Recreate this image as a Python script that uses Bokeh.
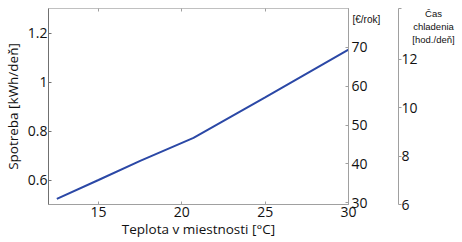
from bokeh.plotting import figure
from bokeh.models import LinearAxis, Range1d, FixedTicker, Label
from bokeh.embed import file_html
from bokeh.resources import INLINE

# Data
temperature = [12.5, 15.0, 17.5, 20.7, 25.0, 30.0]
consumption = [0.523, 0.600, 0.678, 0.772, 0.937, 1.132]

x_ticks = [15, 20, 25, 30]
left_ticks = [0.6, 0.8, 1.0, 1.2]
eur_ticks = [30, 40, 50, 60, 70]
cas_ticks = [6, 8, 10, 12, 14.1]

x_label = "Teplota v miestnosti [°C]"
y_label = "Spotreba [kWh/deň]"
eur_label = "[€/rok]"
cas_label = "Čas\nchladenia\n[hod./deň]"

FONT = "Open Sans"
SMALL = "Liberation Sans"
GRAY = "#a0a0a0"
DARK = "#707070"
TXT = "#111111"

p = figure(width=462, height=242, output_backend="svg", toolbar_location=None,
           x_range=Range1d(12, 30), y_range=Range1d(0.5, 1.3),
           min_border_left=46, min_border_right=114, min_border_top=8,
           min_border_bottom=38)
p.grid.visible = False
p.outline_line_color = "#c0c0c0"
p.background_fill_color = "white"
p.border_fill_color = "white"

p.line(temperature, consumption, line_color="#2b48a6", line_width=2)

# bottom axis
xa = p.xaxis[0]
xa.ticker = FixedTicker(ticks=x_ticks)
xa.axis_label = x_label
xa.axis_label_text_font = FONT
xa.axis_label_text_font_size = "13.5px"
xa.axis_label_text_font_style = "normal"
xa.axis_label_text_color = TXT
xa.axis_label_standoff = 0
xa.major_label_text_font = FONT
xa.major_label_text_font_size = "14px"
xa.major_label_text_color = TXT
xa.major_label_standoff = 2
xa.major_tick_in = 3
xa.major_tick_out = 0
xa.minor_tick_line_color = None
xa.axis_line_color = GRAY
xa.major_tick_line_color = GRAY

# left axis
ya = p.yaxis[0]
ya.ticker = FixedTicker(ticks=left_ticks)
ya.major_label_overrides = {1.0: "1"}
ya.axis_label = y_label
ya.axis_label_text_font = FONT
ya.axis_label_text_font_size = "13.5px"
ya.axis_label_text_font_style = "normal"
ya.axis_label_text_color = TXT
ya.axis_label_standoff = 3
ya.major_label_text_font = FONT
ya.major_label_text_font_size = "14px"
ya.major_label_text_color = TXT
ya.major_label_standoff = 1
ya.major_tick_in = 3
ya.major_tick_out = 0
ya.minor_tick_line_color = None
ya.axis_line_color = DARK
ya.major_tick_line_color = DARK

# top ticks only
top = LinearAxis(ticker=FixedTicker(ticks=x_ticks),
                 major_label_overrides={t: "" for t in x_ticks},
                 major_label_text_font_size="1px",
                 major_label_standoff=0, major_tick_in=3, major_tick_out=0,
                 minor_tick_line_color=None, axis_line_color=None,
                 major_tick_line_color=GRAY)
p.add_layout(top, "above")

# right axes
p.extra_y_ranges = {"eur": Range1d(29.55, 80.0), "cas": Range1d(6.0, 14.1)}

eur = LinearAxis(y_range_name="eur", ticker=FixedTicker(ticks=eur_ticks),
                 major_label_text_font=FONT, major_label_text_font_size="14px",
                 major_label_text_color=TXT,
                 major_label_standoff=3, major_tick_in=3, major_tick_out=0,
                 minor_tick_line_color=None, axis_line_color=GRAY,
                 major_tick_line_color=GRAY)
p.add_layout(eur, "right")

# header of the € axis (its own slot in the right side panel)
p.add_layout(Label(x=-18, y=180, x_units="screen", y_units="screen", text=eur_label,
                   text_font=SMALL, text_font_size="10px", text_color=TXT), "right")

cas = LinearAxis(y_range_name="cas", ticker=FixedTicker(ticks=cas_ticks),
                 major_label_overrides={14.1: ""},
                 major_label_text_font=FONT, major_label_text_font_size="14px",
                 major_label_text_color=TXT,
                 major_label_standoff=0, major_tick_in=0, major_tick_out=3,
                 minor_tick_line_color=None, axis_line_color=GRAY,
                 major_tick_line_color=GRAY)
p.add_layout(cas, "right")

p.add_layout(Label(x=13, y=197, x_units="screen", y_units="screen", text=cas_label,
                   text_font=SMALL, text_font_size="9.5px", text_color=TXT,
                   text_align="center", text_baseline="top", text_line_height=1.2), "right")

open("out.html", "w").write(file_html(p, INLINE))
